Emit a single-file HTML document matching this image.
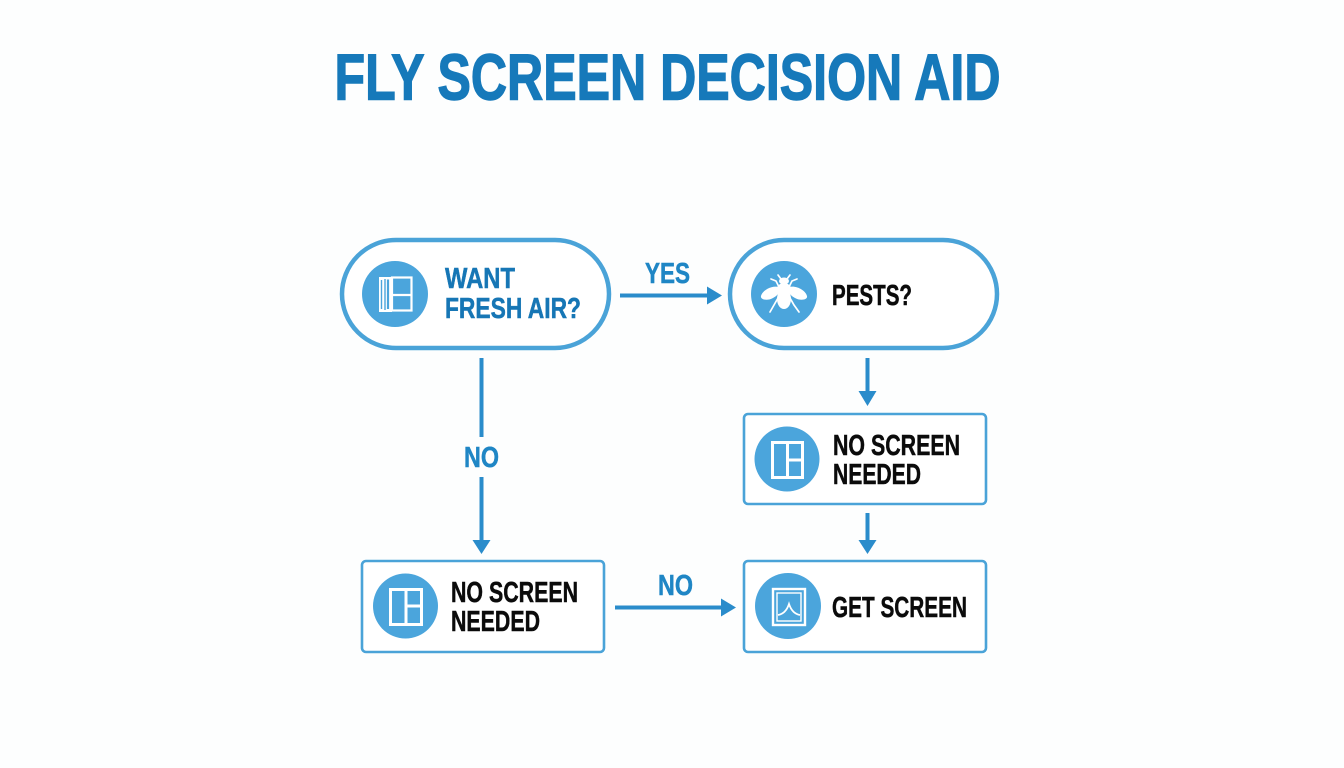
<!DOCTYPE html>
<html>
<head>
<meta charset="utf-8">
<style>
html,body{margin:0;padding:0;background:#fdfefe;width:1344px;height:768px;overflow:hidden}
svg{display:block}
text{font-family:"Liberation Sans",sans-serif;font-weight:700}
.k{fill:#0b0b0b;font-size:29px;stroke:#0b0b0b;stroke-width:.5px}
.b{fill:#1676b5;font-size:29px;stroke:#1676b5;stroke-width:.5px}
.l{fill:#1f86c5;font-size:29px;stroke:#1f86c5;stroke-width:.5px}
.n{fill:#fff;stroke:#4aa3d8}
.c{fill:#4ba5dc}
.w{fill:none;stroke:#fff}
.a{stroke:#2a8ccb;stroke-width:4;fill:none}
.h{fill:#2a8ccb}
</style>
</head>
<body>
<svg width="1344" height="768" viewBox="0 0 1344 768" xmlns="http://www.w3.org/2000/svg">
<rect width="1344" height="768" fill="#fdfefe"/>
<text x="334.500" y="99.500" font-size="65" fill="#1679ba" stroke="#1679ba" stroke-width="1.400" textLength="666" lengthAdjust="spacingAndGlyphs">FLY SCREEN DECISION AID</text>

<!-- nodes -->
<rect class="n" x="342" y="240" width="267" height="108" rx="54" stroke-width="4.5"/>
<rect class="n" x="730" y="240" width="267" height="108" rx="54" stroke-width="4.5"/>
<rect class="n" x="744" y="414" width="242" height="90" rx="4" stroke-width="2.6"/>
<rect class="n" x="362" y="561" width="242" height="91" rx="4" stroke-width="2.6"/>
<rect class="n" x="744" y="561" width="242" height="91" rx="4" stroke-width="2.6"/>

<!-- circles -->
<circle class="c" cx="395" cy="294" r="33"/>
<circle class="c" cx="784" cy="294" r="33"/>
<circle class="c" cx="787" cy="459" r="32.5"/>
<circle class="c" cx="405.500" cy="606" r="32.500"/>
<circle class="c" cx="788" cy="606" r="33"/>

<!-- window open icon -->
<g class="w" stroke-width="2.200">
<rect x="392" y="277.500" width="19.500" height="33"/>
<path d="M392 295H412"/>
</g>
<path d="M379 277H392V312H379Z" fill="#fff"/>
<path d="M381.500 280V309M385 279V310" stroke="#4ba5dc" stroke-width="1.400" fill="none"/>
<path d="M388 279.500V309" stroke="#4ba5dc" stroke-width="2.200" fill="none"/>

<!-- fly icon -->
<g fill="#fff">
<ellipse cx="784" cy="281" rx="5" ry="3.500"/>
<ellipse cx="784" cy="289" rx="7" ry="6"/>
<ellipse cx="784" cy="299" rx="7" ry="10"/>
<path d="M779 287C771 285 762 291 761 296C760 300 768 301 773 298C777 296 780 292 781 290Z"/>
<path d="M789 287C797 285 806 291 807 296C808 300 800 301 795 298C791 296 788 292 787 290Z"/>
</g>
<g fill="none" stroke="#fff" stroke-width="1.700" stroke-linecap="round">
<path d="M779 287L776 281L771 279"/>
<path d="M789 287L792 281L797 279"/>
<path d="M781 279L778 275M787 279L790 275"/>
<path d="M778 298L774 305L770 312"/>
<path d="M790 298L794 305L799 312"/>
</g>

<!-- panel icons -->
<g class="w" stroke-width="3">
<rect x="772.500" y="442.500" width="30" height="35"/>
<path d="M787.500 442V478M787.500 460H803"/>
<rect x="390.500" y="589.500" width="31" height="35"/>
<path d="M406 589V625M406 606H422"/>
</g>

<!-- get screen icon -->
<g class="w">
<rect x="773" y="589" width="32" height="36" stroke-width="2.400"/>
<rect x="777" y="593" width="24" height="28" stroke-width="1.400"/>
<path d="M778 615C784 614 787 610 789 604C791 610 794 614 800 615" stroke-width="1.800"/>
</g>

<!-- labels -->
<text class="b" x="445" y="288" textLength="70" lengthAdjust="spacingAndGlyphs">WANT</text>
<text class="b" x="445" y="318" textLength="136" lengthAdjust="spacingAndGlyphs">FRESH AIR?</text>
<text class="k" x="832" y="305" textLength="80" lengthAdjust="spacingAndGlyphs">PESTS?</text>
<text class="k" x="833" y="455" textLength="127" lengthAdjust="spacingAndGlyphs">NO SCREEN</text>
<text class="k" x="833" y="484" textLength="88" lengthAdjust="spacingAndGlyphs">NEEDED</text>
<text class="k" x="451" y="602" textLength="127" lengthAdjust="spacingAndGlyphs">NO SCREEN</text>
<text class="k" x="451" y="631" textLength="89" lengthAdjust="spacingAndGlyphs">NEEDED</text>
<text class="k" x="832" y="617" textLength="135" lengthAdjust="spacingAndGlyphs">GET SCREEN</text>
<text class="l" x="645" y="283" textLength="45" lengthAdjust="spacingAndGlyphs">YES</text>
<text class="l" x="464" y="467" textLength="35" lengthAdjust="spacingAndGlyphs">NO</text>
<text class="l" x="658" y="595" textLength="35" lengthAdjust="spacingAndGlyphs">NO</text>

<!-- arrows -->
<path class="a" d="M620 295.500H710"/>
<path class="h" d="M707 286.500L722 295.500L707 304.500Z"/>
<path class="a" d="M481.500 358V437M481.500 477V543"/>
<path class="h" d="M472.500 540L481.500 554L490.500 540Z"/>
<path class="a" d="M867.500 358V394"/>
<path class="h" d="M858.500 391L867.500 406L876.500 391Z"/>
<path class="a" d="M867.500 513V542"/>
<path class="h" d="M858.500 540L867.500 554L876.500 540Z"/>
<path class="a" d="M615 607.500H724"/>
<path class="h" d="M721 598.500L736 607.500L721 616.500Z"/>
</svg>
</body>
</html>
